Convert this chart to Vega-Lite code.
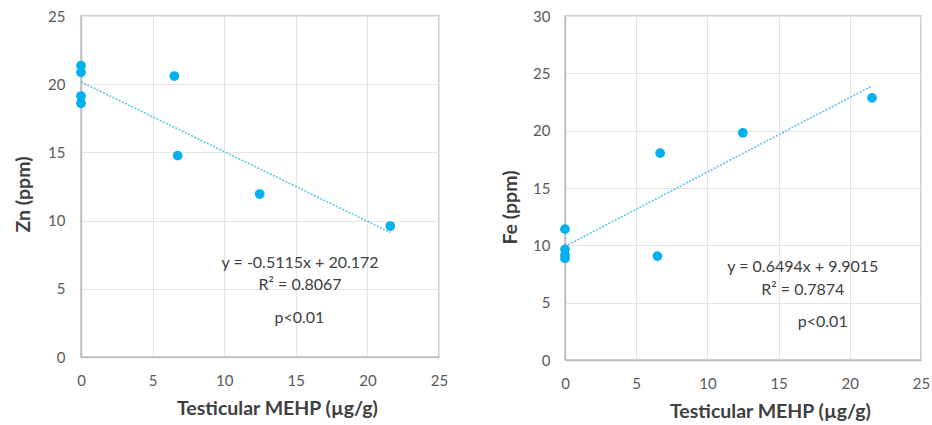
{
  "$schema": "https://vega.github.io/schema/vega-lite/v6.json",
  "background": "white",
  "padding": {"left": 12, "top": 8, "right": 4, "bottom": 4},
  "spacing": 50,
  "datasets": {
    "zn": [
      {"mehp": 0, "val": 21.36},
      {"mehp": 0, "val": 20.87},
      {"mehp": 0, "val": 19.13},
      {"mehp": 0, "val": 18.6},
      {"mehp": 6.52, "val": 20.6},
      {"mehp": 6.75, "val": 14.76},
      {"mehp": 12.48, "val": 11.95},
      {"mehp": 21.6, "val": 9.6}
    ],
    "znfit": [
      {"mehp": 0, "val": 20.172},
      {"mehp": 21.6, "val": 9.124}
    ],
    "zntext": [
      {"mehp": 15.3, "val": 6.9, "label": "y = -0.5115x + 20.172"},
      {"mehp": 15.3, "val": 5.28, "label": "R² = 0.8067"},
      {"mehp": 15.25, "val": 2.86, "label": "p<0.01"}
    ],
    "fe": [
      {"mehp": 0, "val": 11.41},
      {"mehp": 0, "val": 9.64},
      {"mehp": 0, "val": 9.15},
      {"mehp": 0, "val": 8.86},
      {"mehp": 6.49, "val": 9.06},
      {"mehp": 6.68, "val": 18.04},
      {"mehp": 12.49, "val": 19.81},
      {"mehp": 21.56, "val": 22.86}
    ],
    "fefit": [
      {"mehp": 0, "val": 9.9015},
      {"mehp": 21.56, "val": 23.902}
    ],
    "fetext": [
      {"mehp": 16.7, "val": 8.13, "label": "y = 0.6494x + 9.9015"},
      {"mehp": 16.7, "val": 6.1, "label": "R² = 0.7874"},
      {"mehp": 18.1, "val": 3.34, "label": "p<0.01"}
    ]
  },
  "hconcat": [
    {
      "width": 358,
      "height": 341,
      "layer": [
        {
          "data": {"name": "znfit"},
          "mark": {"type": "line", "color": "#5ec4f0", "strokeWidth": 1.6, "strokeDash": [2, 1.5]},
          "encoding": {
            "x": {"field": "mehp", "type": "quantitative", "scale": {"domain": [0, 25], "nice": false},
                  "axis": {"values": [0, 5, 10, 15, 20, 25], "title": "Testicular MEHP (µg/g)", "titleX": 196, "titleY": 42}},
            "y": {"field": "val", "type": "quantitative", "scale": {"domain": [0, 25], "nice": false},
                  "axis": {"values": [0, 5, 10, 15, 20, 25], "title": "Zn (ppm)", "labelPadding": 16, "titlePadding": 14, "titleY": 178}}
          }
        },
        {
          "data": {"name": "zn"},
          "mark": {"type": "circle", "color": "#00b0f0", "opacity": 1, "size": 95},
          "encoding": {
            "x": {"field": "mehp", "type": "quantitative"},
            "y": {"field": "val", "type": "quantitative"}
          }
        },
        {
          "data": {"name": "zntext"},
          "mark": {"type": "text", "font": "Lato", "fontSize": 16, "color": "#404040", "align": "center", "baseline": "middle"},
          "encoding": {
            "x": {"field": "mehp", "type": "quantitative"},
            "y": {"field": "val", "type": "quantitative"},
            "text": {"field": "label"}
          }
        }
      ]
    },
    {
      "width": 356,
      "height": 344,
      "layer": [
        {
          "data": {"name": "fefit"},
          "mark": {"type": "line", "color": "#5ec4f0", "strokeWidth": 1.6, "strokeDash": [2, 1.5]},
          "encoding": {
            "x": {"field": "mehp", "type": "quantitative", "scale": {"domain": [0, 25], "nice": false},
                  "axis": {"values": [0, 5, 10, 15, 20, 25], "title": "Testicular MEHP (µg/g)", "titleX": 205, "titleY": 42}},
            "y": {"field": "val", "type": "quantitative", "scale": {"domain": [0, 30], "nice": false},
                  "axis": {"values": [0, 5, 10, 15, 20, 25, 30], "title": "Fe (ppm)", "labelPadding": 15, "titlePadding": 12, "titleY": 191}}
          }
        },
        {
          "data": {"name": "fe"},
          "mark": {"type": "circle", "color": "#00b0f0", "opacity": 1, "size": 95},
          "encoding": {
            "x": {"field": "mehp", "type": "quantitative"},
            "y": {"field": "val", "type": "quantitative"}
          }
        },
        {
          "data": {"name": "fetext"},
          "mark": {"type": "text", "font": "Lato", "fontSize": 16, "color": "#404040", "align": "center", "baseline": "middle"},
          "encoding": {
            "x": {"field": "mehp", "type": "quantitative"},
            "y": {"field": "val", "type": "quantitative"},
            "text": {"field": "label"}
          }
        }
      ]
    }
  ],
  "config": {
    "view": {"stroke": "#bfbfbf", "strokeWidth": 1.5},
    "axis": {
      "domainColor": "#bfbfbf",
      "domainWidth": 1.5,
      "gridColor": "#e4e4e4",
      "ticks": false,
      "labelColor": "#595959",
      "labelFont": "Lato",
      "labelFontSize": 15,
      "titleFont": "Lato",
      "titleFontSize": 19.5,
      "titleColor": "#404040",
      "titleFontWeight": "bold"
    },
    "axisX": {"labelPadding": 16, "labelFlush": false, "titleBaseline": "top"}
  }
}
